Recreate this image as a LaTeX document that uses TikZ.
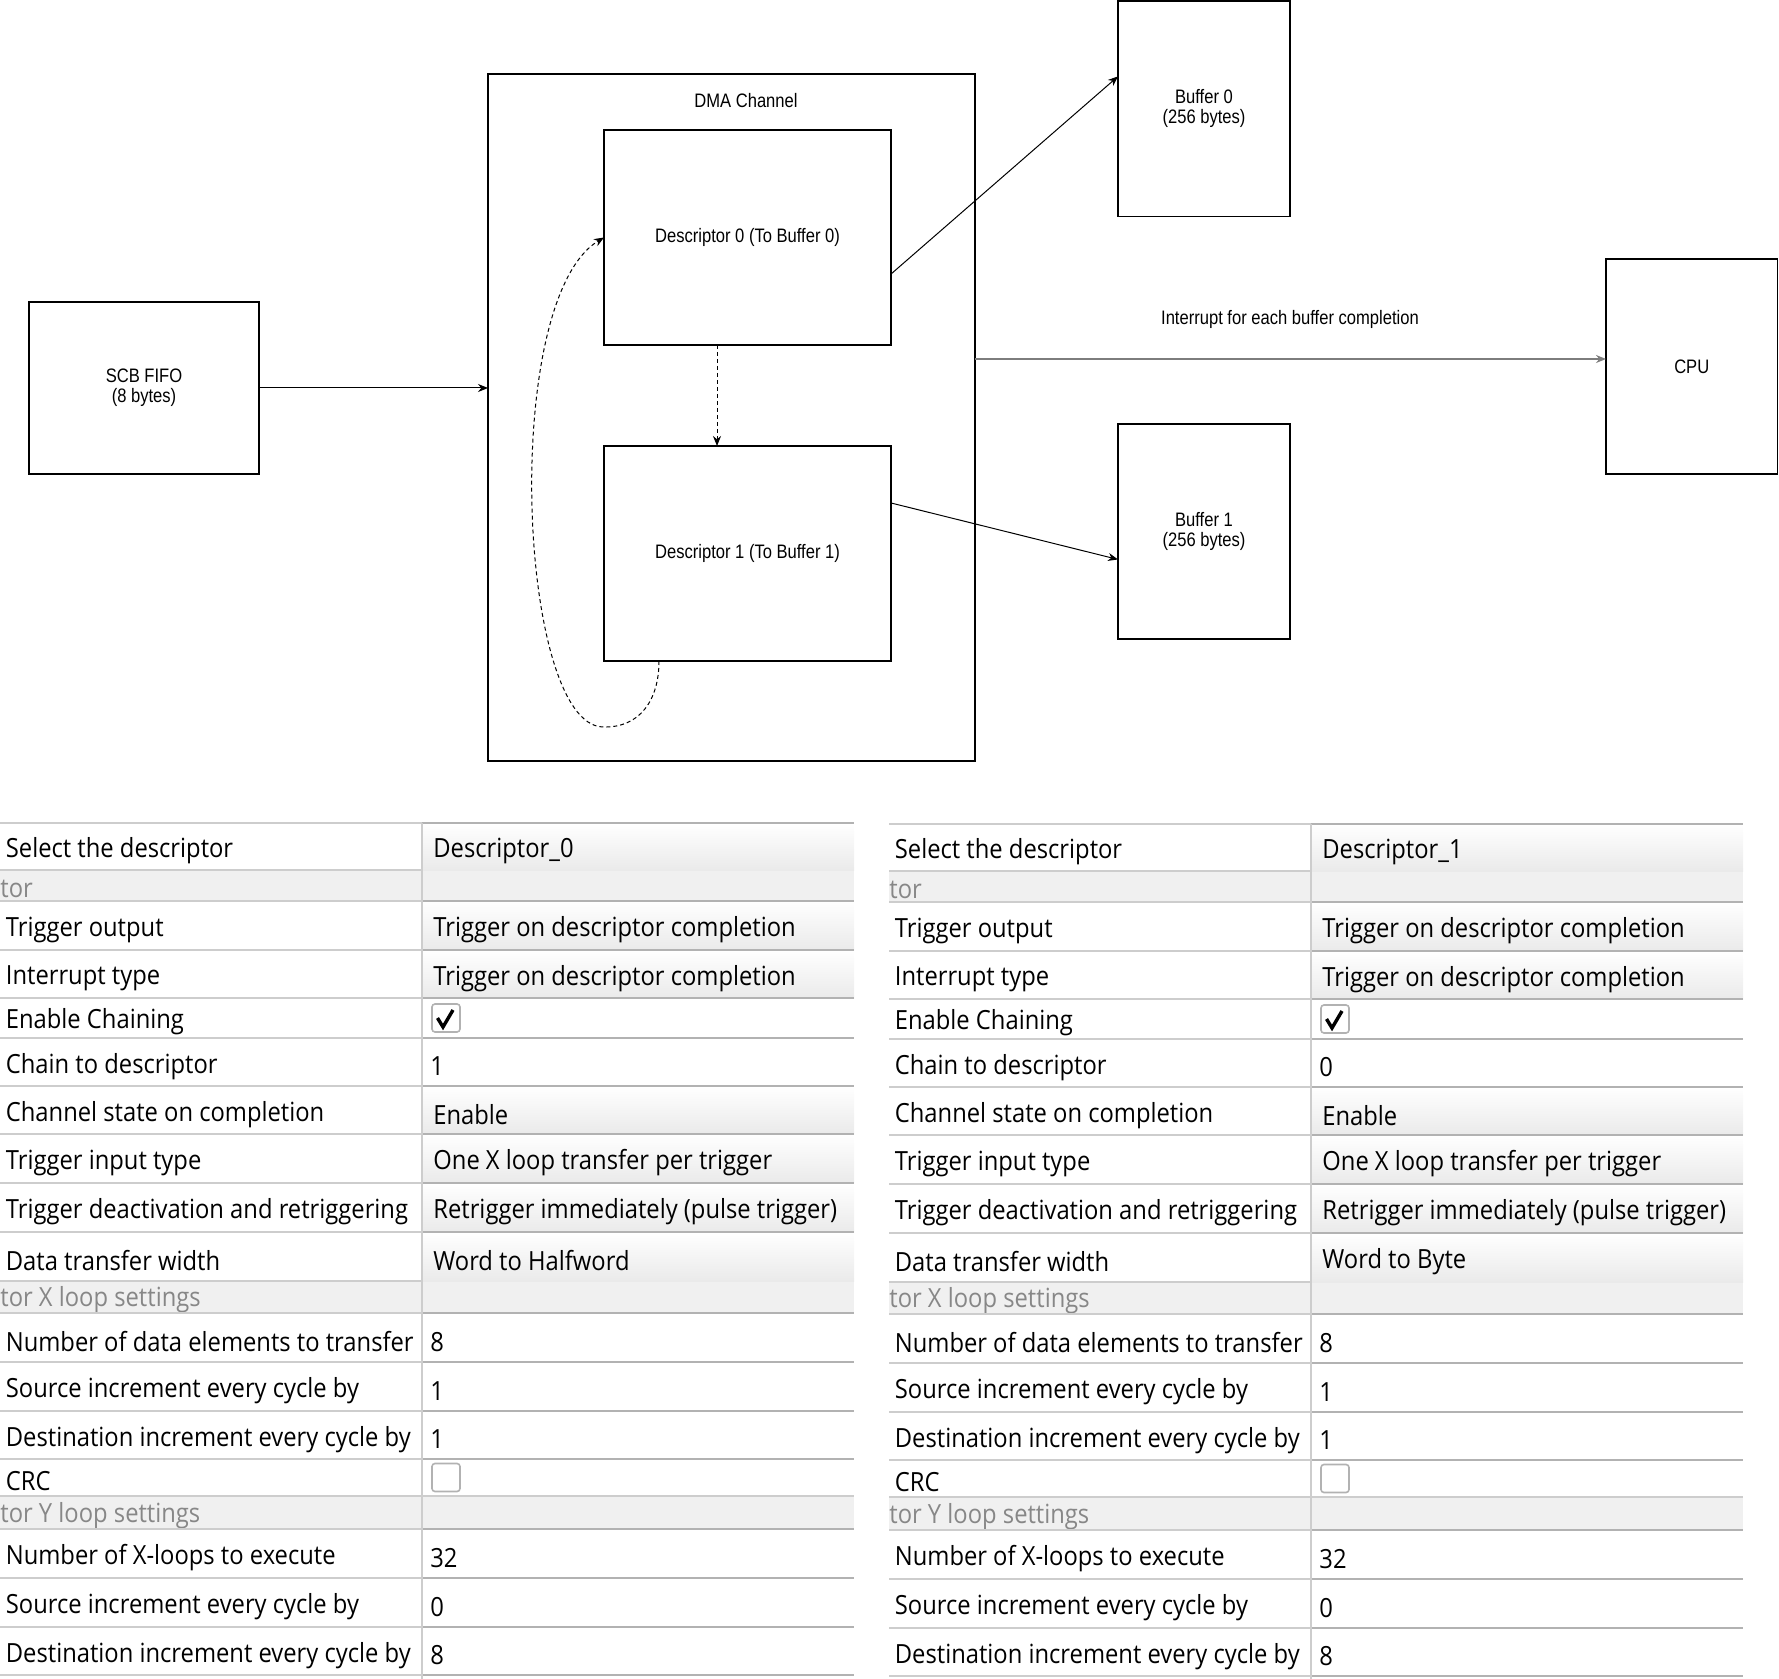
\documentclass[tikz,border=0pt]{standalone}
\usepackage{fontspec}
\setmainfont{Liberation Sans}
\newfontfamily\diagfont[FakeStretch=0.85]{Liberation Sans}
\newfontfamily\tabfont[FakeStretch=0.9]{Open Sans}
\usetikzlibrary{positioning,arrows.meta,calc}
\definecolor{cGrid}{RGB}{205,205,205}
\definecolor{cCellTop}{RGB}{178,178,178}
\definecolor{cHead}{RGB}{240,240,240}
\definecolor{cHeadTxt}{RGB}{135,135,135}
\definecolor{cCombo}{RGB}{234,234,234}
\definecolor{cWire}{RGB}{125,125,125}

% one property table of the DMA component (x shift, y shift, prefix, descriptor, chain to, width)
\newcommand{\desctable}[6]{%
  \begin{scope}[shift={(#1,#2)},name prefix=#3-]
    \foreach \a/\b/\lab in {870/901/tor,1281/1313/tor X loop settings,1496/1529/tor Y loop settings}{
      \fill[cHead] (0,\a) rectangle (854,\b);
      \draw[gridln] (0,\a) -- (854,\a);
      \node[sect] (sec\a) at (0,{(\a+\b)/2+3}) {\lab};
    }
    \foreach \a/\b/\lab/\val in {823/870/Select the descriptor/#4,
        901/950/Trigger output/Trigger on descriptor completion,
        950/998/Interrupt type/Trigger on descriptor completion,
        1086/1134/Channel state on completion/Enable,
        1134/1183/Trigger input type/One X loop transfer per trigger,
        1183/1232/Trigger deactivation and retriggering/Retrigger immediately (pulse trigger),
        1232/1281/Data transfer width/#6}{
      \shade[top color=white,bottom color=cCombo] (422,\a) rectangle (854,\b);
      \draw[gridln] (0,\a) -- (422,\a);
      \draw[celltop] (422,\a) -- (854,\a);
      \node[prop] (lab\a) at (5.5,{(\a+\b)/2+4.5}) {\lab};
      \node[prop] (val\a) at (433,{(\a+\b)/2+4.5}) {\val};
    }
    \foreach \a/\b/\lab/\val in {1038/1086/Chain to descriptor/#5,
        1313/1362/Number of data elements to transfer/8,
        1362/1411/Source increment every cycle by/1,
        1411/1459/Destination increment every cycle by/1,
        1529/1578/Number of X-loops to execute/32,
        1578/1627/Source increment every cycle by/0,
        1627/1675/Destination increment every cycle by/8}{
      \draw[gridln] (0,\a) -- (422,\a);
      \draw[celltop] (422,\a) -- (854,\a);
      \node[prop] (lab\a) at (5.5,{(\a+\b)/2+4.5}) {\lab};
      \node[prop] (val\a) at (430,{(\a+\b)/2+4.5}) {\val};
    }
    \foreach \a/\b/\lab/\c in {998/1038/Enable Chaining/1,1459/1496/CRC/0}{
      \draw[gridln] (0,\a) -- (422,\a);
      \draw[celltop] (422,\a) -- (854,\a);
      \node[prop] (lab\a) at (5.5,{(\a+\b)/2+4}) {\lab};
      \draw[gray!60,line width=0.8pt,rounded corners=1.5pt,fill=white]
        (432,{(\a+\b)/2-14}) rectangle (460,{(\a+\b)/2+14});
      \ifnum\c=1
        \draw[line width=1.7pt] (437.5,{(\a+\b)/2}) -- (443,{(\a+\b)/2+9}) -- (453,{(\a+\b)/2-8});
      \fi
    }
    \draw[gridln] (0,1675) -- (422,1675);
    \draw[celltop] (422,1675) -- (854,1675);
    \draw[gridln] (422,823) -- (422,1679);
  \end{scope}}

\begin{document}
\begin{tikzpicture}[x=0.5pt,y=-0.5pt,
   box/.style={draw,line width=0.65pt,inner sep=0pt,outer sep=0pt,align=center,
     font=\diagfont\fontsize{9.75}{10}\selectfont},
   note/.style={inner sep=0pt,font=\diagfont\fontsize{9.75}{10}\selectfont},
   flow/.style={-{Stealth[length=5pt,width=4pt]},line width=0.5pt},
   chain/.style={flow,dash pattern=on 2pt off 1.5pt},
   prop/.style={anchor=west,inner sep=0pt,font=\tabfont\fontsize{13.2}{15}\selectfont},
   sect/.style={prop,text=cHeadTxt},
   gridln/.style={cGrid,line width=1pt},
   celltop/.style={cCellTop,line width=1.4pt}]
  \useasboundingbox (0,0) rectangle (1779,1679);

  % block diagram
  \node[box,minimum width=115pt,minimum height=86pt] (scb) at (144,388) {SCB FIFO\\(8 bytes)};
  \node[box,minimum width=243.5pt,minimum height=343.5pt] (dma) at (731.5,417.5) {};
  \node[note] (dmalbl) at (746,101) {DMA Channel};
  \node[box,minimum width=143.5pt,minimum height=107.5pt] (d0) at (747.5,237.5) {Descriptor 0 (To Buffer 0)};
  \node[box,minimum width=143.5pt,minimum height=107.5pt] (d1) at (747.5,553.5) {Descriptor 1 (To Buffer 1)};
  \node[box,minimum width=86pt,minimum height=107.75pt] (b0) at (1204,108.75) {Buffer 0\\(256 bytes)};
  \node[box,minimum width=86pt,minimum height=107.5pt] (b1) at (1204,531.5) {Buffer 1\\(256 bytes)};
  \node[box,minimum width=85.75pt,minimum height=107.5pt] (cpu) at (1691.75,366.5) {CPU};
  \node[note] (irqlbl) at (1290,319) {Interrupt for each buffer completion};

  \draw[flow] (scb) -- (scb -| dma.west);
  \draw[flow] ($(d0.north east)!0.67!(d0.south east)$) -- ($(b0.north west)!0.35!(b0.south west)$);
  \draw[flow] ($(d1.north east)!0.265!(d1.south east)$) -- ($(b1.north west)!0.63!(b1.south west)$);
  \draw[flow,draw=cWire,line width=0.9pt] ([yshift=3.75pt]cpu.west -| dma.east) -- ([yshift=3.75pt]cpu.west);
  \draw[chain] ([xshift=-15.25pt]d0.south) -- ([xshift=-15.25pt]d1.north);
  \draw[chain] ([xshift=-44.25pt]d1.south) .. controls (659,700) and (640,728) .. (603,727)
     .. controls (518,725) and (500,300) .. (d0.west);

  % descriptor settings
  \desctable{0}{0}{L}{Descriptor\_0}{1}{Word to Halfword}
  \desctable{889}{1}{R}{Descriptor\_1}{0}{Word to Byte}
\end{tikzpicture}
\end{document}
